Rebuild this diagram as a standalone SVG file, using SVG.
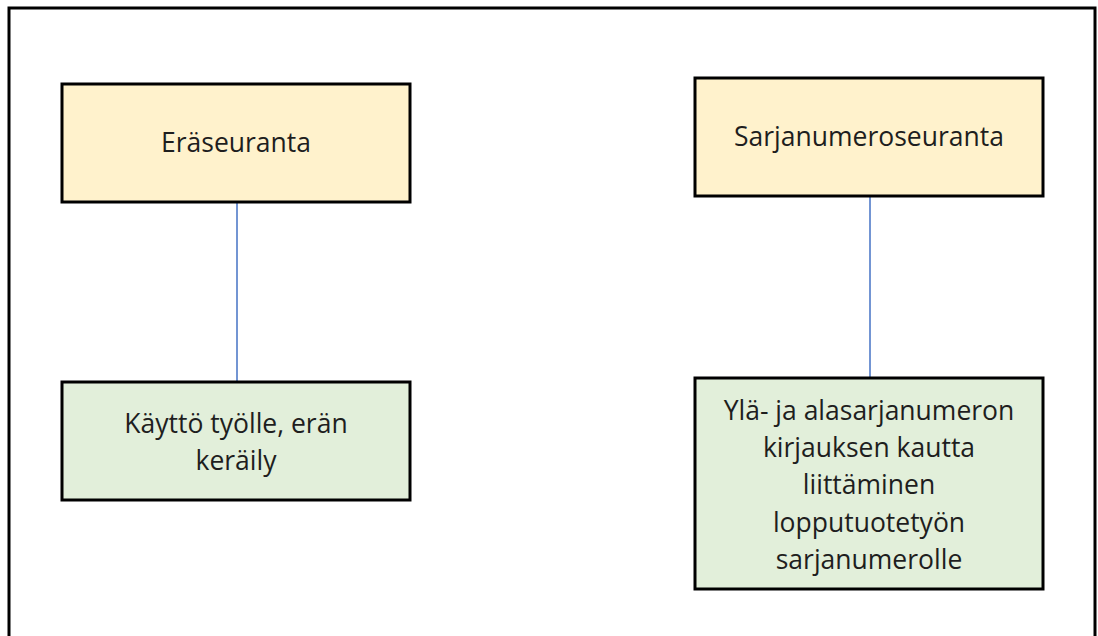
<svg xmlns="http://www.w3.org/2000/svg" width="1098" height="636" viewBox="0 0 1098 636">
<style>
.frame{fill:#fff;stroke:#000;stroke-width:3}
.top{fill:#FFF2CC;stroke:#000;stroke-width:3}
.bot{fill:#E2EFDA;stroke:#000;stroke-width:3}
.conn{stroke:#4472C4;stroke-width:1.5;fill:none}
text{font-family:"Open Sans","Noto Sans",sans-serif;font-size:26.5px;fill:#1e1e1e;text-anchor:middle}
</style>
<rect width="1098" height="636" fill="#fff"/>
<rect class="frame" x="9" y="8" width="1086" height="640"/>
<g id="connectors">
<line class="conn" x1="237" y1="202" x2="237" y2="382"/>
<line class="conn" x1="870" y1="196" x2="870" y2="378"/>
</g>
<g id="n1">
<rect class="top" x="62" y="84" width="348" height="118"/>
<text x="236" y="152">Eräseuranta</text>
</g>
<g id="n2">
<rect class="top" x="695" y="78" width="348" height="118"/>
<text x="869" y="146">Sarjanumeroseuranta</text>
</g>
<g id="n3">
<rect class="bot" x="62" y="382" width="348" height="118"/>
<text x="236" y="433">Käyttö työlle, erän</text>
<text x="236" y="470">keräily</text>
</g>
<g id="n4">
<rect class="bot" x="695" y="378" width="348" height="211"/>
<text x="869" y="420">Ylä- ja alasarjanumeron</text>
<text x="869" y="457">kirjauksen kautta</text>
<text x="869" y="494">liittäminen</text>
<text x="869" y="532">lopputuotetyön</text>
<text x="869" y="569">sarjanumerolle</text>
</g>
</svg>
